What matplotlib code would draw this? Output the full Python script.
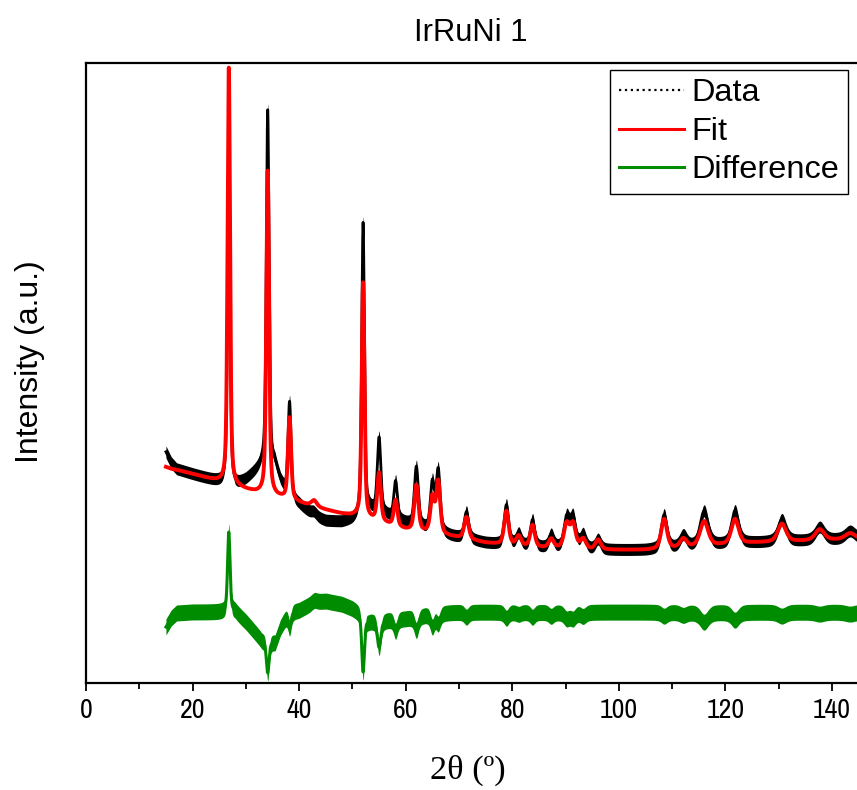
import numpy as np
import matplotlib
matplotlib.use("Agg")
import matplotlib.pyplot as plt
from matplotlib.lines import Line2D
from matplotlib import font_manager

# ---------------- data ----------------
title = "IrRuNi 1"
xlabel = "2θ (º)"
ylabel = "Intensity (a.u.)"
series_names = ["Data", "Fit", "Difference"]
xticks_major = [0, 20, 40, 60, 80, 100, 120, 140]
xticks_minor = [10, 30, 50, 70, 90, 110, 130]

two_theta_start, two_theta_end, two_theta_step = 15.0, 145.0, 0.02

# reflection positions (deg 2theta)
peak_pos = [26.8, 34.1, 38.2, 42.8, 52.0, 55.0, 58.1, 62.0, 65.0, 66.1,
            71.4, 78.9, 81.2, 83.8, 87.3, 90.2, 91.4, 93.3, 96.1,
            108.5, 112.1, 116.0, 121.8, 130.6, 137.7, 143.4]
peak_fwhm = [0.55, 0.6, 0.7, 1.2, 0.6, 0.8, 0.8, 0.9, 0.9, 0.9,
             1.0, 1.0, 1.1, 1.0, 1.1, 1.2, 1.2, 1.2, 1.2,
             1.3, 1.5, 1.8, 1.6, 1.8, 2.0, 2.2]
peak_eta = 0.5
# fitted heights above background
fit_amp = [417, 324, 82, 6, 235, 48, 26, 46, 35, 52,
           22, 34, 10, 22, 9, 24, 24, 10, 10,
           30, 9, 25, 25, 18, 11, 6]
# measured heights above background
data_amp = [337, 356, 98, 4, 292, 75, 38, 60, 48, 62,
            27, 40, 12, 27, 13, 30, 30, 14, 10,
            34, 12, 35, 33, 22, 13, 8]

# background levels (read at these angles)
bg_x = [15, 16, 17, 20, 25, 28, 30, 32, 33, 35.5, 36.5, 38, 40, 43, 45, 48, 50,
        51.5, 53, 55, 60, 65, 70, 75, 80, 85, 90, 95, 100, 105, 110, 115, 120,
        125, 130, 135, 140, 145]
bg_fit = [216, 214, 213, 209, 201, 196, 193, 190, 189, 186, 185, 183, 180, 176,
          173, 169, 167, 166, 163, 161, 153, 149, 145, 140, 137, 135, 134, 133,
          133, 133, 134, 136, 138, 140, 141, 142, 143, 144]
bg_data = [231, 220, 214, 209, 201, 196, 203, 212, 217, 216, 200, 183, 178, 166,
           162, 161, 163, 166, 171, 169, 159, 150, 145, 140, 137, 135, 134, 133,
           133, 133, 134, 136, 138, 140, 141, 142, 143, 144]
diff_offset = 71

# ---------------- profile construction ----------------
x = np.arange(two_theta_start, two_theta_end + 1e-9, two_theta_step)


def profile(amps, bgv):
    y = np.interp(x, bg_x, bgv).astype(float)
    for p, a, w in zip(peak_pos, amps, peak_fwhm):
        d = (x - p) / w
        lor = 1.0 / (1.0 + 4.0 * d ** 2)
        gau = np.exp(-4.0 * np.log(2) * d ** 2)
        y += a * (peak_eta * lor + (1 - peak_eta) * gau)
    return y


fit = profile(fit_amp, bg_fit)
data = profile(data_amp, bg_data)
diff = diff_offset + (fit - data)

# ---------------- fonts ----------------
avail = {f.name for f in font_manager.fontManager.ttflist}
sans = "Liberation Sans" if "Liberation Sans" in avail else "DejaVu Sans"
narrow = "Archivo Narrow" if "Archivo Narrow" in avail else sans
serif = "Liberation Serif" if "Liberation Serif" in avail else "DejaVu Serif"

# ---------------- figure ----------------
W, H = 857, 790
fig = plt.figure(figsize=(W / 100, H / 100), dpi=100)
ax = fig.add_axes([86 / W, 1 - 683 / H, 1 - 86 / W, (683 - 63) / H])

black_band = 6
green_band = 8
ax.fill_between(x, data - black_band, data + black_band, color="black",
                linewidth=0, zorder=2)
ax.plot(x, data, color="black", linewidth=2.0, zorder=2)
ax.plot(x, fit, color="#ff0000", linewidth=2.8, zorder=3)
ax.fill_between(x, diff - green_band, diff + green_band, color="#008c00",
                linewidth=0, zorder=2)
ax.plot(x, diff, color="#008c00", linewidth=2.2, zorder=2)

ax.set_xlim(0, (857 - 86) / ((832 - 86) / 140))
ax.set_ylim(0, 620)
ax.set_yticks([])
ax.set_xticks(xticks_major)
ax.set_xticks(xticks_minor, minor=True)
ax.set_xticklabels([str(t) for t in xticks_major], fontfamily=narrow, fontsize=20)
ax.tick_params(axis="x", which="major", direction="out", length=6, width=1.3, pad=5)
ax.tick_params(axis="x", which="minor", direction="out", length=4, width=1.3)
ax.spines["right"].set_visible(False)
for s in ["left", "bottom", "top"]:
    ax.spines[s].set_linewidth(1.6)

handles = [Line2D([], [], color="black", linestyle=":", linewidth=1.6),
           Line2D([], [], color="#ff0000", linewidth=2.2),
           Line2D([], [], color="#008c00", linewidth=2.2)]
leg = ax.legend(handles, series_names, loc="upper right",
                bbox_to_anchor=(848 / W, 1 - 70 / H), bbox_transform=fig.transFigure,
                prop={"family": sans, "size": 23.4}, frameon=True, fancybox=False,
                edgecolor="black", framealpha=1, borderpad=0.26,
                labelspacing=0.26, handlelength=2.0, handletextpad=0.25,
                borderaxespad=0)
leg.get_frame().set_linewidth(1.0)

fig.text(471 / W, 1 - 33 / H, title, ha="center", va="center",
         fontfamily=sans, fontsize=22.2)
fig.text(30 / W, 1 - 362 / H, ylabel, ha="center", va="center", rotation=90,
         fontfamily=sans, fontsize=23)
fig.text(468 / W, 1 - 770 / H, xlabel, ha="center", va="center",
         fontfamily=serif, fontsize=24.7)

fig.savefig("out.png", dpi=100)
